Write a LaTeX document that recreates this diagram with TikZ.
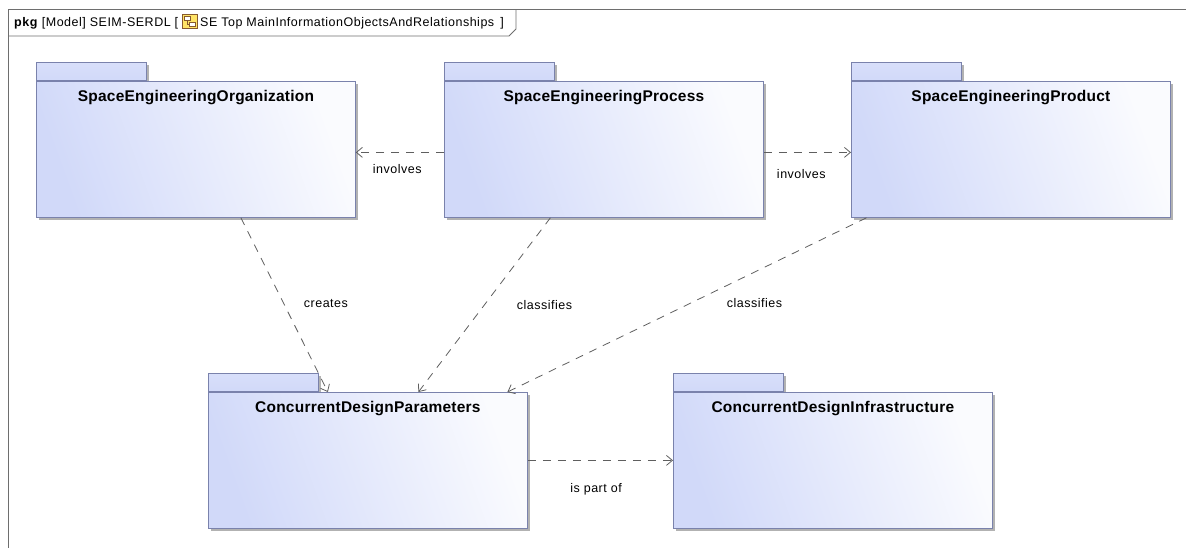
\documentclass[tikz,border=0pt]{standalone}
\usepackage{fontspec}
\setmainfont{Liberation Sans}
\newfontfamily\pkgfont{Liberation Sans}[LetterSpace=1.5]
\newfontfamily\lblfont{Liberation Sans}[LetterSpace=4]
\usetikzlibrary{positioning, arrows.meta, shadows}

\definecolor{pkgblue}{RGB}{209,217,249}
\definecolor{pkgline}{RGB}{122,130,172}
\definecolor{linkgray}{RGB}{95,95,95}
\definecolor{framegray}{RGB}{110,110,110}

\begin{document}
\begin{tikzpicture}[
        x=1pt, y=-1pt,
        node distance=6pt,
        pkgtab/.style={draw=pkgline, line width=0.8pt, anchor=south west, inner sep=0pt,
            minimum width=110pt, minimum height=18pt,
            top color=pkgblue!85, bottom color=pkgblue,
            drop shadow={shadow xshift=2.5pt, shadow yshift=-2.5pt, fill=black!30, opacity=1}},
        pkgbody/.style={draw=pkgline, line width=0.8pt, anchor=north west, inner sep=0pt,
            minimum width=319pt, minimum height=136pt,
            top color=white!90!pkgblue, bottom color=pkgblue, shading angle=-70,
            drop shadow={shadow xshift=2.5pt, shadow yshift=-2.5pt, fill=black!30, opacity=1}},
        pkgname/.style={inner sep=0pt, font=\pkgfont\bfseries\fontsize{15.5}{18}\selectfont},
        lbl/.style={inner sep=0pt, font=\lblfont\fontsize{12.5}{15}\selectfont},
        dep/.style={draw=linkgray, line width=0.8pt, dash pattern=on 8pt off 7pt,
            -{Straight Barb[length=6pt, width=10pt, line width=0.8pt]}}
    ]

    \useasboundingbox (0,0) rectangle (1186,547);

    % diagram frame and its name tab
    \draw[framegray, line width=0.9pt] (1190,9) -- (8,9) -- (8,550);
    \draw[framegray, line width=0.9pt] (516,9) -- (516,29) -- (509,36) -- (8,36);
    \node (hdr) [lbl, anchor=base west] at (14,26)
        {\textbf{pkg} [Model] SEIM-SERDL [};
    % diagram icon
    \draw[draw=brown!70!black, fill=orange!35!yellow!60!white, line width=0.5pt] (182,14) rectangle (197,28);
    \draw[draw=brown!70!black, fill=white, line width=0.4pt] (184,16) rectangle (190,20);
    \draw[draw=brown!70!black, fill=white, line width=0.4pt] (189,22) rectangle (195,26);
    \draw[brown!70!black, line width=0.4pt] (187,20) |- (189,24);
    \node (hdrname) [lbl, anchor=base west] at (200,26)
        {SE Top MainInformationObjectsAndRelationships \,]};

    % Pakete
    \node (orgtab) [pkgtab] at (36,81) {};
    \node (org) [pkgbody] at (orgtab.south west) {};
    \node (orgname) [pkgname, below=9pt of org.north] {SpaceEngineeringOrganization};

    \node (proctab) [pkgtab] at (444,81) {};
    \node (proc) [pkgbody] at (proctab.south west) {};
    \node (procname) [pkgname, below=9pt of proc.north] {SpaceEngineeringProcess};

    \node (prodtab) [pkgtab] at (851,81) {};
    \node (prod) [pkgbody] at (prodtab.south west) {};
    \node (prodname) [pkgname, below=9pt of prod.north] {SpaceEngineeringProduct};

    \node (paramtab) [pkgtab] at (208,392) {};
    \node (param) [pkgbody] at (paramtab.south west) {};
    \node (paramname) [pkgname, below=9pt of param.north] {ConcurrentDesignParameters};

    \node (infratab) [pkgtab] at (673,392) {};
    \node (infra) [pkgbody] at (infratab.south west) {};
    \node (infraname) [pkgname, below=9pt of infra.north] {ConcurrentDesignInfrastructure};

    % Abhaengigkeiten
    \draw[dep] ([yshift=-3pt]proc.west) -- node[lbl, pos=0.53, below=12pt] (lblinvolvesa) {involves} ([yshift=-3pt]org.east);
    \draw[dep] ([yshift=-3pt]proc.east) -- node[lbl, pos=0.43, below=17pt] (lblinvolvesb) {involves} ([yshift=-3pt]prod.west);
    \draw[dep] ([xshift=45pt]org.south) -- node[lbl, pos=0.49, right=20pt] (lblcreates) {creates} ([xshift=-40pt]param.north);
    \draw[dep] ([xshift=-53.5pt]proc.south) -- node[lbl, pos=0.5, right=32pt] (lblclassa) {classifies} ([xshift=50.5pt]param.north);
    \draw[dep] ([xshift=-144.5pt]prod.south) -- node[lbl, pos=0.49, right=36pt] (lblclassb) {classifies} ([xshift=139.5pt]param.north);
    \draw[dep] (param.east) -- node[lbl, pos=0.47, below=23pt] (lblpartof) {is part of} (infra.west);

\end{tikzpicture}
\end{document}
